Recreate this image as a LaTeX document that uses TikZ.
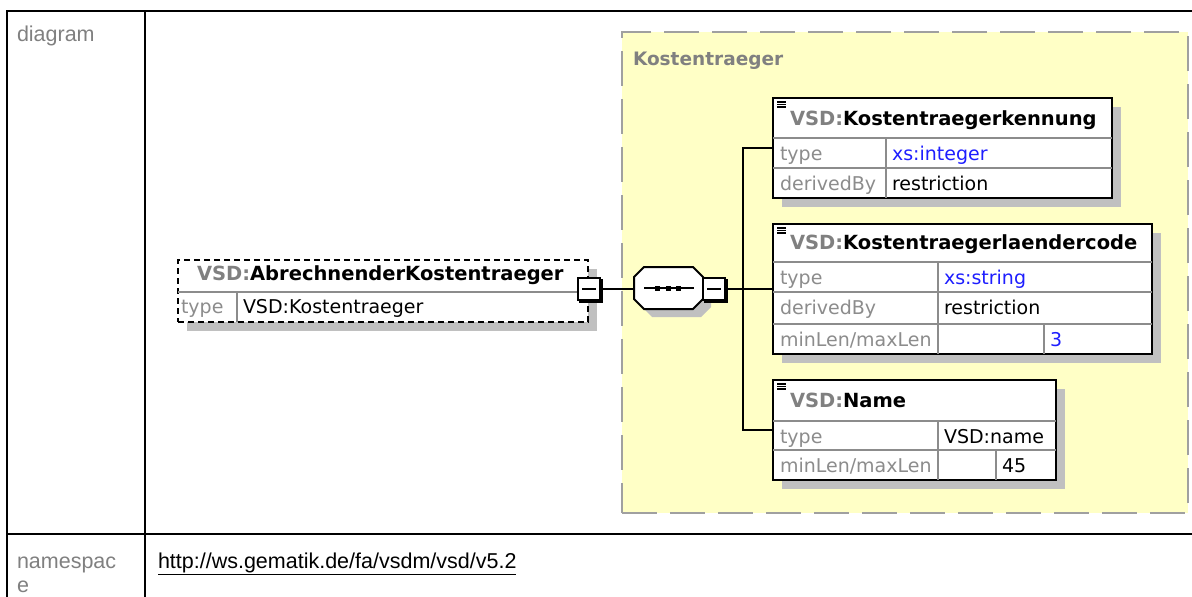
\documentclass[tikz,border=0pt]{standalone}
\usepackage{fontspec}
\setmainfont{Liberation Sans}
\newfontfamily\dv{DejaVu Sans}
\definecolor{ylw}{HTML}{FFFFC6}
\definecolor{shd}{HTML}{C0C0C0}
\definecolor{lbl}{HTML}{8C8C8C}
\definecolor{pfx}{HTML}{808080}
\definecolor{dashgray}{HTML}{A0A0A0}
\definecolor{xsblue}{HTML}{1E1EFF}
\definecolor{gridgray}{HTML}{8C8C8C}
\newcommand\myoctpath[1]{([xshift=10pt]#1.north west) -- ([xshift=-10pt]#1.north east) -- ([yshift=-10pt]#1.north east) -- ([yshift=10pt]#1.south east) -- ([xshift=-10pt]#1.south east) -- ([xshift=10pt]#1.south west) -- ([yshift=10pt]#1.south west) -- ([yshift=-10pt]#1.north west) -- cycle}
\begin{document}
\begin{tikzpicture}[x=1pt,y=-1pt,
  txt/.style={anchor=base west,inner sep=0pt,outer sep=0pt},
  ttl/.style={txt,font=\dv\bfseries\fontsize{19.5}{22}\selectfont},
  val/.style={txt,font=\dv\fontsize{19}{22}\selectfont},
  lab/.style={val,text=lbl},
  blu/.style={val,text=xsblue},
  side/.style={txt,font=\fontsize{21.5}{24}\selectfont,text=pfx},
  tline/.style={draw=black,line width=2.2pt},
  elbox/.style={draw=black,line width=2pt,fill=white,anchor=north west,inner sep=0pt,outer sep=0pt,
     preaction={fill=shd,draw=none,transform canvas={shift={(9pt,-9pt)}}}},
  sep/.style={draw=gridgray,line width=1.6pt},
  conn/.style={draw=black,line width=2pt},
  icon/.style={draw=black,line width=1.2pt},
  minusbox/.style={draw=black,line width=2pt,fill=white,minimum width=22pt,minimum height=22pt,
     inner sep=0pt,outer sep=0pt,
     preaction={fill=black,draw=black,line width=2pt,transform canvas={shift={(2pt,-2pt)}}},
     path picture={\draw[line width=1.6pt] ([xshift=4pt]path picture bounding box.west) -- ([xshift=-4pt]path picture bounding box.east);}},
  seqbox/.style={rectangle,draw=none,minimum width=69pt,minimum height=42pt,inner sep=0pt,outer sep=0pt}
]
\useasboundingbox (0,0) rectangle (1192,597);
\fill[white] (0,0) rectangle (1192,597);

% outer table
\draw[tline] (7,597) -- (7,11) -- (1192,11);
\draw[tline] (145,11) -- (145,597);
\draw[tline] (7,534) -- (1192,534);
\node[side] (diag) at (17,41) {diagram};
\node[side] (ns1) at (17,568) {namespac};
\node[side] (ns2) at (17,592) {e};
\node[side,text=black] (url) at (158,568) {\underline{http://ws.gematik.de/fa/vsdm/vsd/v5.2}};

% group
\node[anchor=north west,minimum width=566pt,minimum height=481pt,fill=ylw,draw=dashgray,
  line width=2pt,dash pattern=on 35pt off 13pt,inner sep=0pt,outer sep=0pt] (grp) at (622,32) {};
\node[txt,font=\dv\bfseries\fontsize{18.5}{22}\selectfont,text=pfx] (grpname) at (633,65) {Kostentraeger};

% root element
\node[elbox,dash pattern=on 6pt off 4pt,minimum width=410pt,minimum height=62pt] (ab) at (178,260) {};
\draw[sep] (178,292) -- (588,292);
\draw[sep] (237,292) -- (237,322);
\node[ttl] (abt) at (197,280) {\textcolor{pfx}{VSD:}AbrechnenderKostentraeger};
\node[lab] (abl) at (181,313) {type};
\node[val] (abv) at (243,313) {VSD:Kostentraeger};
\node[minusbox] (m1) at (589,289) {};

% sequence compositor
\node[seqbox] (seq) at (668.5,288) {};
\fill[shd,transform canvas={shift={(8pt,-8pt)}}] \myoctpath{seq};
\draw[draw=black,line width=2pt,fill=white] \myoctpath{seq};
\draw[line width=1.6pt] ([xshift=10pt]seq.west) -- ([xshift=-9pt]seq.east);
\foreach \dx in {-11,0,10} {\fill[black] ([xshift=\dx pt]seq.center) ++(-2.5,-2.5) rectangle ++(5,5);}
\node[minusbox] (m2) at (714,289) {};

% child 1
\node[elbox,minimum width=339pt,minimum height=100pt] (k1) at (773,98) {};
\draw[sep] (773,138) -- (1112,138);
\draw[sep] (773,168) -- (1112,168);
\draw[sep] (886,138) -- (886,198);
\draw[icon] (777,102) -- (786,102) (777,104.5) -- (786,104.5) (777,107) -- (786,107);
\node[ttl] (k1t) at (790,125) {\textcolor{pfx}{VSD:}Kostentraegerkennung};
\node[lab] (k1l1) at (780,160) {type};
\node[blu] (k1v1) at (892,160) {xs:integer};
\node[lab] (k1l2) at (780,190) {derivedBy};
\node[val] (k1v2) at (892,190) {restriction};

% child 2
\node[elbox,minimum width=379pt,minimum height=130pt] (k2) at (773,224) {};
\draw[sep] (773,262) -- (1152,262);
\draw[sep] (773,292) -- (1152,292);
\draw[sep] (773,324) -- (1152,324);
\draw[sep] (938,262) -- (938,354);
\draw[sep] (1044,324) -- (1044,354);
\draw[icon] (777,228) -- (786,228) (777,230.5) -- (786,230.5) (777,233) -- (786,233);
\node[ttl] (k2t) at (790,249) {\textcolor{pfx}{VSD:}Kostentraegerlaendercode};
\node[lab] (k2l1) at (780,284) {type};
\node[blu] (k2v1) at (944,284) {xs:string};
\node[lab] (k2l2) at (780,314) {derivedBy};
\node[val] (k2v2) at (944,314) {restriction};
\node[lab] (k2l3) at (780,346) {minLen/maxLen};
\node[blu] (k2v3) at (1050,346) {3};

% child 3
\node[elbox,minimum width=283pt,minimum height=100pt] (k3) at (773,380) {};
\draw[sep] (773,421) -- (1056,421);
\draw[sep] (773,450) -- (1056,450);
\draw[sep] (938,421) -- (938,480);
\draw[sep] (996,450) -- (996,480);
\draw[icon] (777,384) -- (786,384) (777,386.5) -- (786,386.5) (777,389) -- (786,389);
\node[ttl] (k3t) at (790,407) {\textcolor{pfx}{VSD:}Name};
\node[lab] (k3l1) at (780,443) {type};
\node[val] (k3v1) at (944,443) {VSD:name};
\node[lab] (k3l2) at (780,472) {minLen/maxLen};
\node[val] (k3v2) at (1002,472) {45};

% connectors
\draw[conn] (m1.east) -- (seq.west |- m1.east);
\draw[conn] (m2.east) -- (k2.west |- m2.east);
\draw[conn] (k1.west) -- ++(-30,0) |- (k3.west);
\end{tikzpicture}
\end{document}
